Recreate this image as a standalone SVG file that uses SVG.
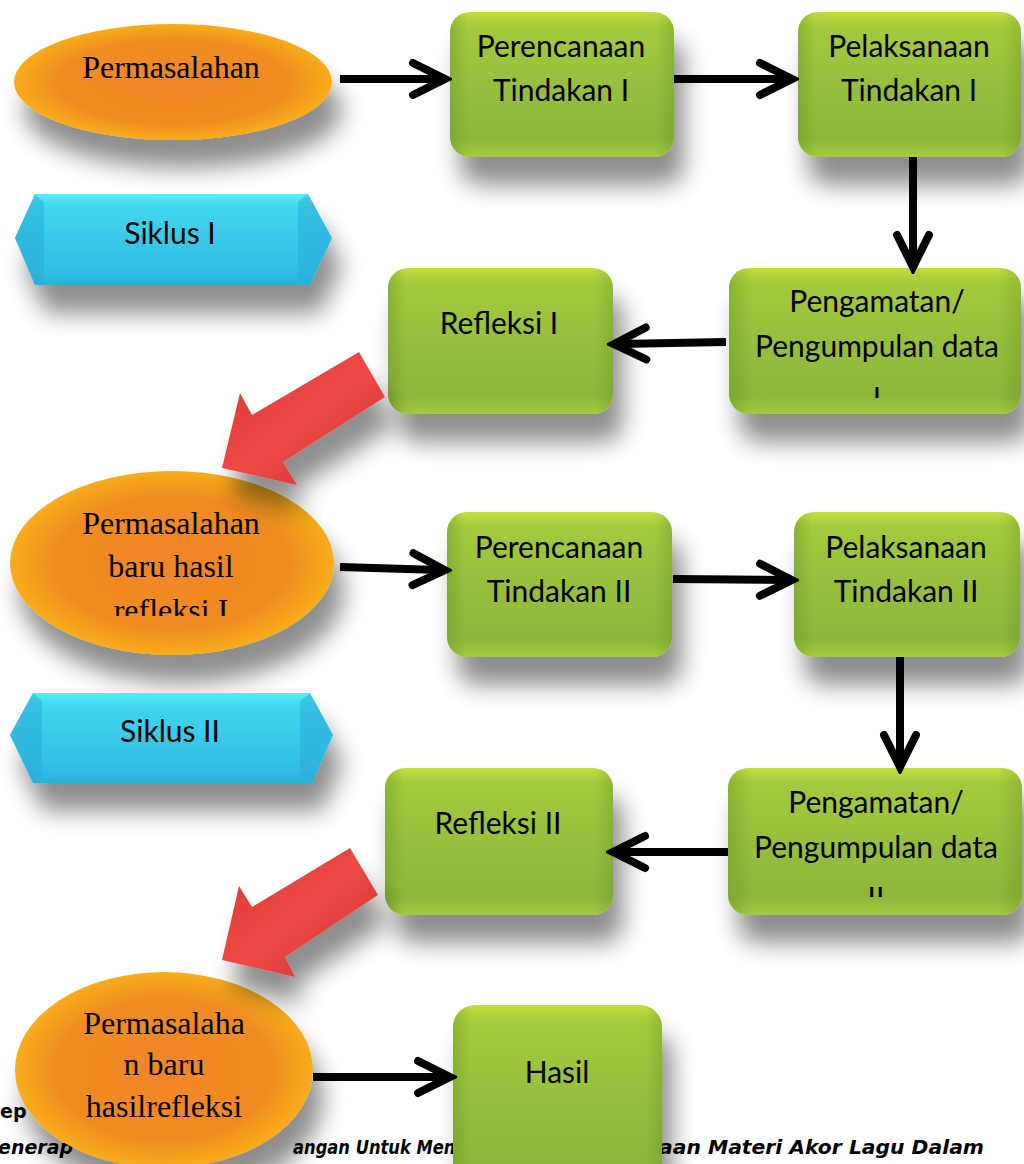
<svg xmlns="http://www.w3.org/2000/svg" width="1024" height="1164" viewBox="0 0 1024 1164">
<style>
.box-t{font-family:Lato,"Open Sans",sans-serif;font-size:30px;fill:#000;text-anchor:middle}
.ell-t{font-family:"Liberation Serif","Times New Roman",serif;font-size:32px;fill:#000;text-anchor:middle}
.cap{font-family:"DejaVu Sans",Verdana,sans-serif;font-weight:bold;font-size:19px;fill:#000}
.conn{stroke:#000;stroke-width:8;fill:none}
.box{fill:url(#gGreen)}
.boxedge{fill:url(#gGreenEdge)}
.ell{fill:url(#gOrange)}
.hex{fill:url(#gCyan)}
.hexend{fill:#2aa9d6;opacity:0.5}
.red{fill:url(#gRed)}
</style>
<defs>
<linearGradient id="gGreen" x1="0" y1="0" x2="0" y2="1">
<stop offset="0" stop-color="#c3dd3c"/>
<stop offset="0.1" stop-color="#a4ca3e"/>
<stop offset="0.5" stop-color="#96bf3d"/>
<stop offset="0.88" stop-color="#8db73a"/>
<stop offset="1" stop-color="#a3cb40"/>
</linearGradient>
<linearGradient id="gGreenEdge" x1="0" y1="0" x2="1" y2="0">
<stop offset="0" stop-color="#5d8a22" stop-opacity="0.35"/>
<stop offset="0.08" stop-color="#5d8a22" stop-opacity="0"/>
<stop offset="0.92" stop-color="#5d8a22" stop-opacity="0"/>
<stop offset="1" stop-color="#5d8a22" stop-opacity="0.3"/>
</linearGradient>
<radialGradient id="gOrange" cx="0.5" cy="0.5" r="0.5">
<stop offset="0" stop-color="#ef8626"/>
<stop offset="0.72" stop-color="#f08b22"/>
<stop offset="1" stop-color="#f8ad1c"/>
</radialGradient>
<linearGradient id="gCyan" x1="0" y1="0" x2="0" y2="1">
<stop offset="0" stop-color="#4ff2f8"/>
<stop offset="0.15" stop-color="#40d6ee"/>
<stop offset="0.85" stop-color="#32bde3"/>
<stop offset="1" stop-color="#2aaedc"/>
</linearGradient>
<linearGradient id="gRed" x1="0" y1="0" x2="1" y2="1">
<stop offset="0" stop-color="#d93434"/>
<stop offset="0.5" stop-color="#ee4a46"/>
<stop offset="1" stop-color="#c93030"/>
</linearGradient>
<filter id="sh" x="-30%" y="-30%" width="170%" height="200%">
<feGaussianBlur in="SourceAlpha" stdDeviation="12"/>
<feOffset dx="10" dy="28"/>
<feComponentTransfer><feFuncA type="linear" slope="0.45"/></feComponentTransfer>
<feMerge><feMergeNode/><feMergeNode in="SourceGraphic"/></feMerge>
</filter>
<marker id="chev" viewBox="-40 -24 52 48" refX="0" refY="0" markerWidth="52" markerHeight="48" markerUnits="userSpaceOnUse" orient="auto">
<path d="M-27,-16 L5,0 L-27,16" fill="none" stroke="#000" stroke-width="8" stroke-linecap="round" stroke-linejoin="miter"/>
</marker>
<clipPath id="cPeng1"><rect x="729" y="268" width="292" height="130"/></clipPath>
<clipPath id="cPeng2"><rect x="728" y="768" width="294" height="129"/></clipPath>
<clipPath id="cEll2"><rect x="0" y="470" width="340" height="146"/></clipPath>
</defs>

<rect width="1024" height="1164" fill="#fff"/>

<g id="caption">
<text class="cap" x="0" y="1118">ep</text>
<text class="cap" x="-2" y="1154" font-style="italic">enerap</text>
<text class="cap" x="293" y="1154" font-style="italic" textLength="168" lengthAdjust="spacingAndGlyphs">angan Untuk Meni</text>
<text class="cap" x="659" y="1154" font-style="italic" textLength="325" lengthAdjust="spacingAndGlyphs">aan Materi Akor Lagu Dalam</text>
</g>

<g id="n-permasalahan">
<ellipse class="ell" cx="173" cy="82" rx="159" ry="58" filter="url(#sh)"/>
<text class="ell-t" x="171" y="78">Permasalahan</text>
</g>

<g id="n-perencanaan1">
<rect class="box" x="450" y="12" width="224" height="145" rx="20" filter="url(#sh)"/>
<rect class="boxedge" x="450" y="12" width="224" height="145" rx="20"/>
<text class="box-t" x="561" y="57">Perencanaan</text>
<text class="box-t" x="561" y="101">Tindakan I</text>
</g>

<g id="n-pelaksanaan1">
<rect class="box" x="798" y="12" width="223" height="145" rx="20" filter="url(#sh)"/>
<rect class="boxedge" x="798" y="12" width="223" height="145" rx="20"/>
<text class="box-t" x="909" y="57">Pelaksanaan</text>
<text class="box-t" x="909" y="101">Tindakan I</text>
</g>

<g id="n-siklus1">
<polygon class="hex" points="15,238 35,194 308,194 332,238 310,285 35,285" filter="url(#sh)"/>
<polygon class="hexend" points="15,238 35,194 44,202 44,277 35,285"/>
<polygon class="hexend" points="332,238 308,194 298,202 298,277 310,285"/>
<text class="box-t" x="170" y="244">Siklus I</text>
</g>

<g id="n-pengamatan1">
<rect class="box" x="729" y="268" width="292" height="146" rx="20" filter="url(#sh)"/>
<rect class="boxedge" x="729" y="268" width="292" height="146" rx="20"/>
<g clip-path="url(#cPeng1)">
<text class="box-t" x="877" y="312">Pengamatan/</text>
<text class="box-t" x="877" y="357">Pengumpulan data</text>
<text class="box-t" x="877" y="409">I</text>
</g>
</g>

<g id="n-refleksi1">
<rect class="box" x="388" y="268" width="225" height="146" rx="20" filter="url(#sh)"/>
<rect class="boxedge" x="388" y="268" width="225" height="146" rx="20"/>
<text class="box-t" x="499" y="334">Refleksi I</text>
</g>

<g id="n-permasalahan2">
<ellipse class="ell" cx="172" cy="563" rx="162" ry="92" filter="url(#sh)"/>
<g clip-path="url(#cEll2)">
<text class="ell-t" x="171" y="534">Permasalahan</text>
<text class="ell-t" x="171" y="577">baru hasil</text>
<text class="ell-t" x="171" y="621">refleksi I</text>
</g>
</g>

<g id="n-perencanaan2">
<rect class="box" x="447" y="512" width="225" height="145" rx="20" filter="url(#sh)"/>
<rect class="boxedge" x="447" y="512" width="225" height="145" rx="20"/>
<text class="box-t" x="559" y="558">Perencanaan</text>
<text class="box-t" x="559" y="602">Tindakan II</text>
</g>

<g id="n-pelaksanaan2">
<rect class="box" x="794" y="512" width="226" height="145" rx="20" filter="url(#sh)"/>
<rect class="boxedge" x="794" y="512" width="226" height="145" rx="20"/>
<text class="box-t" x="906" y="558">Pelaksanaan</text>
<text class="box-t" x="906" y="602">Tindakan II</text>
</g>

<g id="n-siklus2">
<polygon class="hex" points="10,735 33,693 310,693 333,735 312,783 33,783" filter="url(#sh)"/>
<polygon class="hexend" points="10,735 33,693 42,701 42,775 33,783"/>
<polygon class="hexend" points="333,735 310,693 300,701 300,775 312,783"/>
<text class="box-t" x="170" y="742">Siklus II</text>
</g>

<g id="n-pengamatan2">
<rect class="box" x="728" y="768" width="294" height="147" rx="20" filter="url(#sh)"/>
<rect class="boxedge" x="728" y="768" width="294" height="147" rx="20"/>
<g clip-path="url(#cPeng2)">
<text class="box-t" x="876" y="813">Pengamatan/</text>
<text class="box-t" x="876" y="858">Pengumpulan data</text>
<text class="box-t" x="876" y="909">II</text>
</g>
</g>

<g id="n-refleksi2">
<rect class="box" x="385" y="768" width="228" height="147" rx="20" filter="url(#sh)"/>
<rect class="boxedge" x="385" y="768" width="228" height="147" rx="20"/>
<text class="box-t" x="498" y="834">Refleksi II</text>
</g>

<g id="n-permasalahan3">
<ellipse class="ell" cx="164" cy="1070" rx="149" ry="98" filter="url(#sh)"/>
<text class="ell-t" x="164" y="1034">Permasalaha</text>
<text class="ell-t" x="164" y="1075">n baru</text>
<text class="ell-t" x="164" y="1117">hasilrefleksi</text>
</g>

<g id="n-hasil">
<rect class="box" x="453" y="1005" width="209" height="180" rx="22" filter="url(#sh)"/>
<rect class="boxedge" x="453" y="1005" width="209" height="180" rx="22"/>
<text class="box-t" x="557" y="1083">Hasil</text>
</g>

<g id="connectors">
<line class="conn" x1="340" y1="79" x2="440" y2="79" marker-end="url(#chev)"/>
<line class="conn" x1="674" y1="79" x2="787" y2="79" marker-end="url(#chev)"/>
<line class="conn" x1="913" y1="157" x2="913" y2="262" marker-end="url(#chev)"/>
<line class="conn" x1="726" y1="342" x2="619" y2="344" marker-end="url(#chev)"/>
<polygon class="red" points="359,352 385,397 283,462 297,485 222,468 240,393 252,415" filter="url(#sh)"/>
<line class="conn" x1="340" y1="567" x2="440" y2="570" marker-end="url(#chev)"/>
<line class="conn" x1="673" y1="579" x2="787" y2="580" marker-end="url(#chev)"/>
<line class="conn" x1="900" y1="657" x2="900" y2="762" marker-end="url(#chev)"/>
<line class="conn" x1="728" y1="852" x2="618" y2="852" marker-end="url(#chev)"/>
<polygon class="red" points="350,848 378,895 285,957 295,977 222,960 239,886 252,907" filter="url(#sh)"/>
<line class="conn" x1="313" y1="1077" x2="445" y2="1077" marker-end="url(#chev)"/>
</g>
</svg>
